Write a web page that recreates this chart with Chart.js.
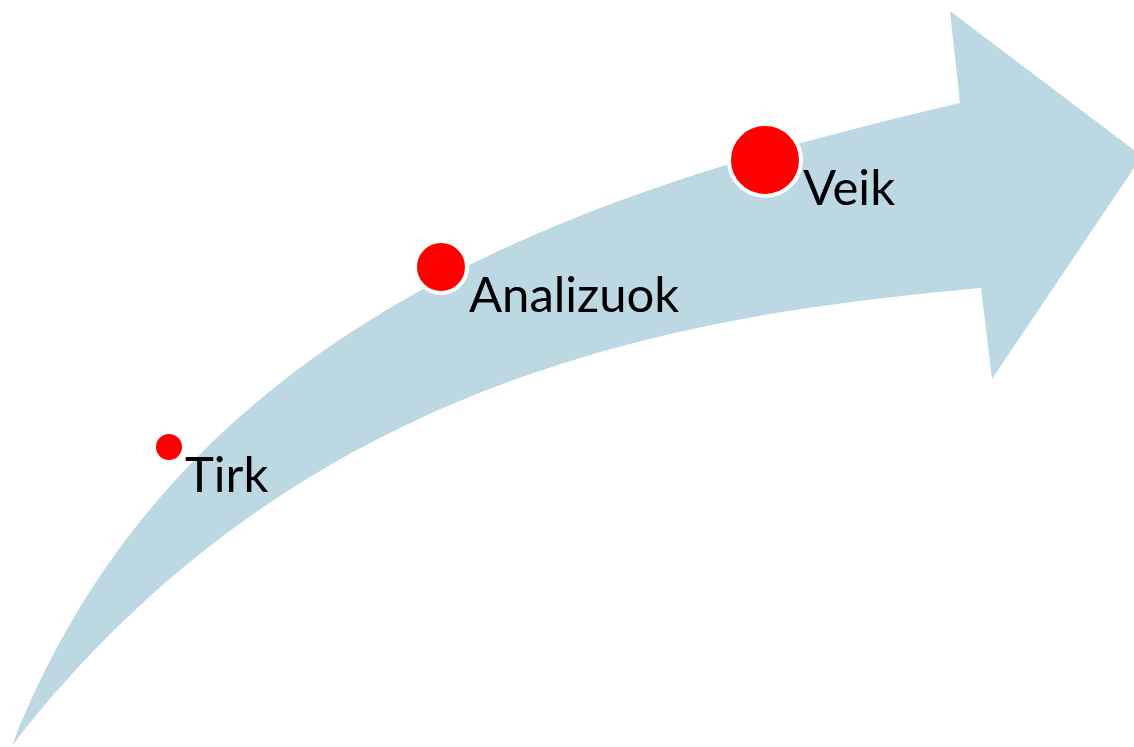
<!DOCTYPE html>
<html>
<head>
<meta charset="utf-8">
<script src="https://cdn.jsdelivr.net/npm/chart.js@4"></script>
<style>
  html, body { margin: 0; padding: 0; background: #ffffff; }
  #chart { display: block; }
</style>
</head>
<body>
<canvas id="chart" width="1134" height="747"></canvas>
<script>
// steps along the arrow
const stepLabels = ['Tirk', 'Analizuok', 'Veik'];
const stepX = [169, 441, 765];
const stepY = [447, 267, 160];
const stepSize = [12, 24, 34];

// arrow outline in axis units: two cubic edges (start, ctrl, ctrl, end) and the head
const arrowUpper = [[12, 746], [176, 327], [570, 194], [960, 103]];
const arrowHead = [[950, 11], [1142, 156], [992, 379], [981, 288]];
const arrowLower = [[981, 288], [682, 315], [300, 375], [12, 746]];

const arrowPlugin = {
  id: 'arrow',
  beforeDatasetsDraw(chart) {
    let {ctx, scales: {x, y}} = chart;
    let px = (p) => [x.getPixelForValue(p[0]), y.getPixelForValue(p[1])];
    let up = arrowUpper.map(px);
    let low = arrowLower.map(px);
    ctx.save();
    ctx.fillStyle = '#bcd8e2';
    ctx.beginPath();
    ctx.moveTo(up[0][0], up[0][1]);
    ctx.bezierCurveTo(up[1][0], up[1][1], up[2][0], up[2][1], up[3][0], up[3][1]);
    arrowHead.map(px).forEach((p) => ctx.lineTo(p[0], p[1]));
    ctx.bezierCurveTo(low[1][0], low[1][1], low[2][0], low[2][1], low[3][0], low[3][1]);
    ctx.closePath();
    ctx.fill();
    ctx.restore();
  }
};

const labelPlugin = {
  id: 'stepLabels',
  afterDatasetsDraw(chart) {
    let {ctx} = chart;
    let meta = chart.getDatasetMeta(0);
    ctx.save();
    ctx.fillStyle = '#000000';
    ctx.font = "49px Lato, 'Open Sans', sans-serif";
    ctx.textBaseline = 'alphabetic';
    ctx.textAlign = 'left';
    meta.data.forEach((pt, i) => {
      ctx.fillText(stepLabels[i], pt.x + stepSize[i] + 4, pt.y + 45);
    });
    ctx.restore();
  }
};

new Chart(document.getElementById('chart'), {
  type: 'bubble',
  data: {
    labels: stepLabels,
    datasets: [{
      data: stepX.map((v, i) => ({x: v, y: stepY[i], r: stepSize[i] + 2})),
      backgroundColor: '#ff0000',
      borderColor: '#ffffff',
      borderWidth: (c) => c.dataIndex === 0 ? 2 : 4,
      hoverRadius: 0,
      clip: false
    }]
  },
  options: {
    responsive: false,
    animation: false,
    layout: {padding: 0, autoPadding: false},
    events: [],
    plugins: {
      legend: {display: false},
      tooltip: {enabled: false}
    },
    scales: {
      x: {type: 'linear', min: 0, max: 1134, display: false},
      y: {type: 'linear', min: 0, max: 747, reverse: true, display: false}
    }
  },
  plugins: [arrowPlugin, labelPlugin]
});
</script>
</body>
</html>
